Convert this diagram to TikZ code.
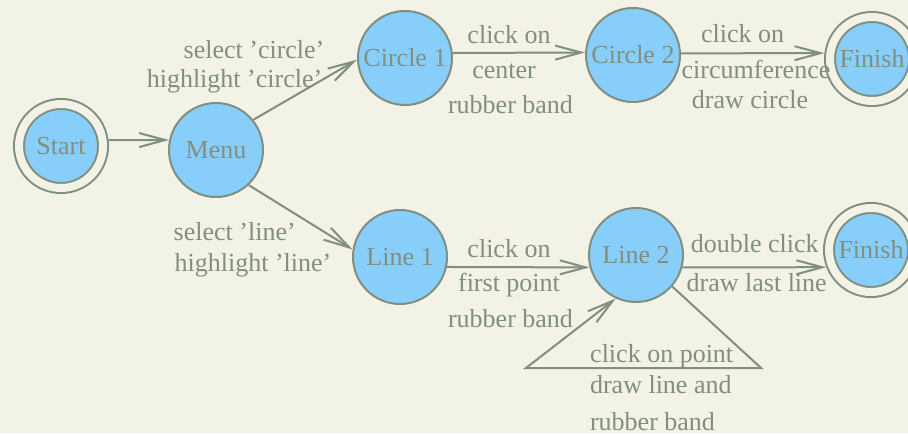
\documentclass[tikz,border=0pt]{standalone}
\usepackage{fontspec}
\setmainfont{Liberation Serif}
\usetikzlibrary{arrows.meta}
\definecolor{bgcol}{RGB}{242,242,230}
\definecolor{nodeblue}{RGB}{135,206,250}
\definecolor{linecol}{RGB}{128,143,128}
\tikzset{
  stnode/.style={circle,draw=linecol,fill=nodeblue,line width=1pt,minimum size=47pt,inner sep=0pt},
  finnode/.style={stnode,minimum size=42pt,double=bgcol,double distance=4pt,outer sep=3pt},
  lbl/.style={anchor=base,inner sep=0pt},
  trans/.style={->,draw=linecol,line width=1pt}
}
\begin{document}
\begin{tikzpicture}[x=0.5pt,y=-0.5pt,font=\fontsize{13}{15}\selectfont,text=linecol,
  >={Straight Barb[length=13pt,width=7pt]}]
\useasboundingbox (0,0) rectangle (908,433);
\fill[bgcol] (0,0) rectangle (908,433);
%the states
\node [finnode] (start) at (61,146) {Start};
\node [stnode] (menu) at (216,150) {Menu};
\node [stnode] (circOne) at (405,58) {Circle 1};
\node [stnode] (circTwo) at (633,55) {Circle 2};
\node [finnode] (finTop) at (872,59) {Finish};
\node [stnode] (lineOne) at (400,257) {Line 1};
\node [stnode] (lineTwo) at (636,255) {Line 2};
\node [finnode] (finBot) at (871,250) {Finish};
\coordinate (loopR) at (761,368);
\coordinate (loopL) at (526,368);
%the labels
\node [lbl] (selCirc) at (254,59) {select 'circle'};
\node [lbl] (hlCirc) at (234.5,88) {highlight 'circle'};
\node [lbl] (clickA) at (509,44) {click on};
\node [lbl] (centerA) at (504,78) {center};
\node [lbl] (rubberA) at (510.5,113) {rubber band};
\node [lbl] (clickB) at (742.5,43) {click on};
\node [lbl] (circumB) at (756,78) {circumference};
\node [lbl] (drawB) at (750,108) {draw circle};
\node [lbl] (selLine) at (234.7,240) {select 'line'};
\node [lbl] (hlLine) at (253,271) {highlight 'line'};
\node [lbl] (clickC) at (509,257) {click on};
\node [lbl] (firstC) at (509,291) {first point};
\node [lbl] (rubberC) at (510.5,327) {rubber band};
\node [lbl] (dblD) at (754.7,252) {double click};
\node [lbl] (lastD) at (756.7,291) {draw last line};
\node [lbl] (clickE) at (661.7,362) {click on point};
\node [lbl] (drawE) at (660.8,393) {draw line and};
\node [lbl] (rubberE) at (652.5,430) {rubber band};
%drawings of transitions
\draw [trans] (start.7) -- (menu.168);
\draw [trans] (menu.39) -- (circOne.182);
\draw [trans] (menu.-47) -- (lineOne.171);
\draw [trans] (circOne.6) -- (circTwo.177.5);
\draw [trans] (circTwo.2.5) -- (finTop.173);
\draw [trans] (lineOne.-12) -- (lineTwo.-165);
\draw [trans] (lineTwo.-15) -- (finBot.-159);
\draw [trans] (lineTwo.-41) -- (loopR) -- (loopL) -- (lineTwo.-115);
\end{tikzpicture}
\end{document}
